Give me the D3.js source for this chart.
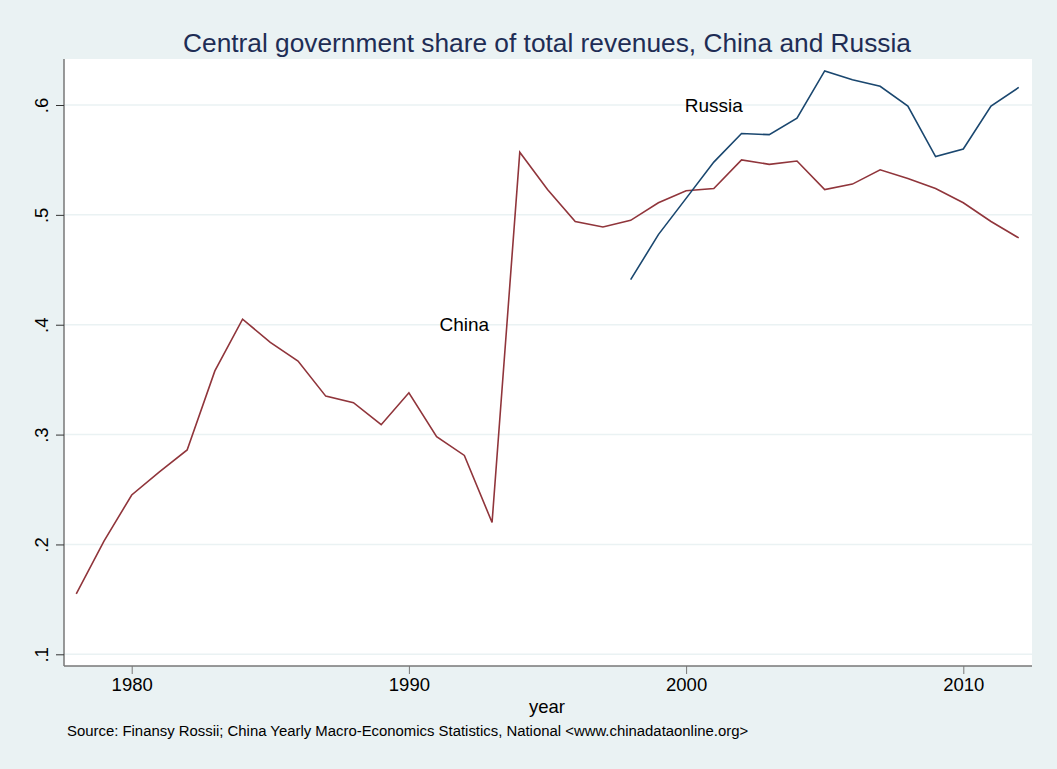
<!DOCTYPE html>
<html><head><meta charset="utf-8">
<script src="https://cdn.jsdelivr.net/npm/d3@7"></script>
<style>body{margin:0;background:#eaf2f3;} svg{display:block;font-family:"Liberation Sans",Arial,sans-serif;}</style>
</head><body>
<script>
const chinaYears = d3.range(1978, 2013);
const chinaValues = [.155,.203,.245,.266,.286,.358,.405,.384,.367,.335,.329,.309,.338,.298,.281,.220,
  .557,.523,.494,.489,.495,.511,.522,.524,.550,.546,.549,.523,.528,.541,.533,.524,.511,.494,.479];
const russiaYears = d3.range(1998, 2013);
const russiaValues = [.441,.482,.515,.548,.574,.573,.588,.631,.623,.617,.599,.553,.560,.599,.616];
const xTicks = [1980,1990,2000,2010];
const yTicks = [.1,.2,.3,.4,.5,.6];
const yTickLabels = [".1",".2",".3",".4",".5",".6"];
const title = "Central government share of total revenues, China and Russia";
const xTitle = "year";
const note = "Source: Finansy Rossii; China Yearly Macro-Economics Statistics, National <www.chinadataonline.org>";

const W=1057,H=769;
const svg=d3.select("body").append("svg").attr("width",W).attr("height",H);
svg.append("rect").attr("width",W).attr("height",H).attr("fill","#eaf2f3");
const L=64,R=1032,T=59,B=666;
svg.append("rect").attr("x",L).attr("y",T).attr("width",R-L).attr("height",B-T).attr("fill","#fff");
const x=d3.scaleLinear().domain([1980,2010]).range([131.7,963.3]);
const y=d3.scaleLinear().domain([.1,.6]).range([654.3,105]);

// grid
svg.append("g").selectAll("line").data(yTicks).join("line")
  .attr("x1",L).attr("x2",R).attr("y1",d=>y(d)).attr("y2",d=>y(d))
  .attr("stroke","#eaf2f3").attr("stroke-width",1.5);

// axes
const yAxis=d3.axisLeft(y).tickValues(yTicks).tickFormat((d,i)=>yTickLabels[i]).tickSize(8).tickPadding(6);
const gy=svg.append("g").attr("transform",`translate(${L},0)`).call(yAxis);
gy.select(".domain").attr("d",`M0,${T}V${B}`).attr("stroke","#777").attr("stroke-width",1.5);
gy.selectAll(".tick line").attr("stroke","#333");
gy.selectAll(".tick text").attr("font-size",18.5).attr("fill","#000")
  .attr("text-anchor","middle").attr("dy",null)
  .attr("transform","translate(-23,0) rotate(-90)").attr("x",0).attr("y",0).attr("dominant-baseline","central");

const xAxis=d3.axisBottom(x).tickValues(xTicks).tickFormat(d3.format("d")).tickSize(8).tickPadding(4);
const gx=svg.append("g").attr("transform",`translate(0,${B})`).call(xAxis);
gx.select(".domain").attr("d",`M${L},0H${R}`).attr("stroke","#777").attr("stroke-width",1.5);
gx.selectAll(".tick line").attr("stroke","#777");
gx.selectAll(".tick text").attr("font-size",18.5).attr("fill","#000");

const line=d3.line();
svg.append("path").datum(chinaYears.map((yr,i)=>[x(yr),y(chinaValues[i])]))
  .attr("d",line).attr("fill","none").attr("stroke","#90353b").attr("stroke-width",1.6);
svg.append("path").datum(russiaYears.map((yr,i)=>[x(yr),y(russiaValues[i])]))
  .attr("d",line).attr("fill","none").attr("stroke","#1a476f").attr("stroke-width",1.6);

svg.append("text").attr("x",x(1992)).attr("y",y(.4)).attr("text-anchor","middle").attr("dominant-baseline","central")
  .attr("font-size",19).text("China");
svg.append("text").attr("x",x(2001)).attr("y",y(.6)).attr("text-anchor","middle").attr("dominant-baseline","central")
  .attr("font-size",19).text("Russia");

svg.append("text").attr("x",547).attr("y",52).attr("text-anchor","middle")
  .attr("font-size",26.3).attr("fill","#1e2d55").text(title);
svg.append("text").attr("x",547).attr("y",713).attr("text-anchor","middle").attr("font-size",18.5).text(xTitle);
svg.append("text").attr("x",67).attr("y",736).attr("font-size",14.9).text(note);
</script>
</body></html>
